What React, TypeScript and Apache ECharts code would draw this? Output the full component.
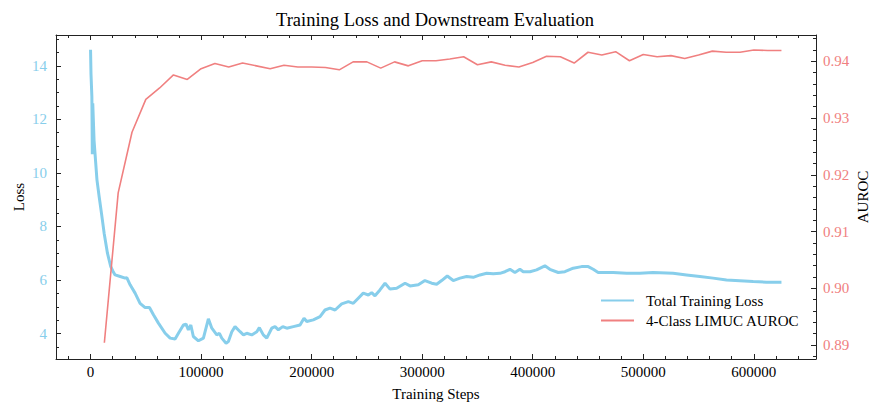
import React, { useEffect, useRef } from 'react';
import * as echarts from 'echarts';

// ---- Data ----
const lossSteps = [
  0, 400, 1200, 1600, 2000, 3200, 5800, 7800, 9900, 12300, 15300, 18300, 20000, 22200, 26800,
  31300, 32800, 35800, 40300, 44800, 49400, 53300, 56900, 61400, 67500, 72000, 76500, 79500,
  84000, 86400, 88500, 90700, 93000, 97600, 102100, 106600, 109700, 114200, 116600, 118700,
  122600, 124700, 127800, 130700, 135300, 138300, 141300, 145800, 150400, 152700, 156300,
  159400, 163900, 166900, 169900, 173900, 177500, 183500, 189500, 193100, 195600, 201500,
  207600, 212100, 216600, 221200, 227200, 233200, 237700, 242200, 246700, 251300, 254300,
  257300, 261800, 266400, 270900, 276900, 284500, 289000, 296500, 302500, 308600, 313100,
  317600, 322700, 328100, 334200, 340200, 346200, 352300, 358300, 364300, 370300, 374900,
  379400, 383900, 388400, 391400, 397500, 403500, 411000, 415500, 423100, 429100, 436600,
  444200, 450200, 454700, 459200, 472800, 484900, 496900, 508900, 527000, 539100, 551200,
  563200, 575300, 587300, 599400, 611500, 625000,
];
const lossValues = [
  14.6, 13.7, 12.85, 10.7, 12.6, 11.2, 9.74, 9.11, 8.49, 7.75, 7.0, 6.5, 6.35, 6.19, 6.13,
  6.07, 6.09, 5.82, 5.51, 5.13, 4.97, 4.97, 4.7, 4.39, 4.01, 3.83, 3.8, 4.01,
  4.32, 4.35, 4.14, 4.32, 3.89, 3.73, 3.83, 4.55, 4.2, 3.95, 4.01, 3.83,
  3.64, 3.7, 4.07, 4.26, 4.07, 3.95, 4.01, 3.95, 4.07, 4.22, 3.95,
  3.83, 4.2, 4.26, 4.14, 4.26, 4.2, 4.26, 4.32, 4.57, 4.45, 4.51,
  4.63, 4.88, 4.95, 4.88, 5.11, 5.19, 5.13, 5.32, 5.51, 5.44, 5.53,
  5.41, 5.63, 5.88, 5.66, 5.69, 5.88, 5.78, 5.82, 5.98, 5.88, 5.84,
  5.98, 6.15, 5.98, 6.07, 6.13, 6.1, 6.19, 6.25, 6.23, 6.25, 6.31,
  6.4, 6.28, 6.4, 6.31, 6.31, 6.38, 6.53, 6.4, 6.28, 6.31, 6.44,
  6.5, 6.5, 6.4, 6.28, 6.28, 6.25, 6.25, 6.28, 6.25, 6.19, 6.13,
  6.07, 6.0, 5.97, 5.94, 5.92, 5.92,
];

const aurocSteps = [
  12500, 25000, 37500, 50000, 62500, 75000, 87500, 100000, 112500, 125000,
  137500, 150000, 162500, 175000, 187500, 200000, 212500, 225000, 237500, 250000,
  262500, 275000, 287500, 300000, 312500, 325000, 337500, 350000, 362500, 375000,
  387500, 400000, 412500, 425000, 437500, 450000, 462500, 475000, 487500, 500000,
  512500, 525000, 537500, 550000, 562500, 575000, 587500, 600000, 612500, 625000,
];
const aurocValues = [
  0.8904, 0.9168, 0.9275, 0.9333, 0.9353, 0.9376, 0.9368, 0.9387, 0.9396, 0.939,
  0.9397, 0.9392, 0.9387, 0.9393, 0.939, 0.939, 0.9389, 0.9385, 0.9399, 0.9399,
  0.9388, 0.9399, 0.9392, 0.9401, 0.9401, 0.9404, 0.9408, 0.9394, 0.9399, 0.9393,
  0.939, 0.9398, 0.9409, 0.9408, 0.9397, 0.9416, 0.9411, 0.9417, 0.9401, 0.9412,
  0.9408, 0.941, 0.9405, 0.9411, 0.9418, 0.9416, 0.9416, 0.942, 0.9419, 0.9419,
];

const xTickValues = [0, 100000, 200000, 300000, 400000, 500000, 600000];
const lossTickValues = [4, 6, 8, 10, 12, 14];
const aurocTickValues = [0.89, 0.9, 0.91, 0.92, 0.93, 0.94];

const seriesNames = ['Total Training Loss', '4-Class LIMUC AUROC'];
const titleText = 'Training Loss and Downstream Evaluation';

// ---- Style ----
const FONT = "'Liberation Serif', 'DejaVu Serif', serif";
const LOSS_COLOR = '#87CEEB';
const AUROC_COLOR = '#F08080';
const AXIS_COLOR = '#222';

const X_MIN = -31250, X_MAX = 656250;
const L_MIN = 3.05, L_MAX = 15.15;
const A_MIN = 0.88753, A_MAX = 0.94464;

function range(start: number, stop: number, step: number, digits: number) {
  const out: number[] = [];
  for (let v = start; v <= stop + step / 1000; v += step) out.push(Number(v.toFixed(digits)));
  return out;
}
const xMinor = range(-20000, 640000, 20000, 0);
const lossMinor = range(3.5, 15.0, 0.5, 2);
const aurocMinor = range(0.888, 0.944, 0.002, 4);

const MAJOR = 5;
const MINOR = 3;

export default function App() {
  const ref = useRef<HTMLDivElement>(null);
  useEffect(() => {
    if (!ref.current) return;
    const chart = echarts.init(ref.current, null, { renderer: 'svg' });
    const lineStyle = { color: AXIS_COLOR, width: 1 };
    const hiddenLine = { show: false, onZero: false };
    const shownLine = { show: true, onZero: false, lineStyle };
    const nameStyle = { fontFamily: FONT, fontSize: 15, color: '#000' };
    const option: any = {
      animation: false,
      backgroundColor: '#fff',
      textStyle: { fontFamily: FONT },
      title: {
        text: titleText,
        left: 'center',
        top: 5,
        textStyle: { fontFamily: FONT, fontSize: 18.5, fontWeight: 'normal', color: '#000' },
      },
      legend: {
        data: seriesNames,
        orient: 'vertical',
        left: 596,
        top: 288,
        icon: 'rect',
        itemWidth: 33,
        itemHeight: 2,
        itemGap: 5,
        textStyle: { fontFamily: FONT, fontSize: 15, color: '#000', padding: [0, 0, 0, 7] },
      },
      grid: {
        left: 56, right: 54, top: 35, bottom: 44,
        containLabel: false,
        outerBoundsMode: 'none',
      },
      xAxis: [
        {
          type: 'value', gridIndex: 0, position: 'bottom', min: X_MIN, max: X_MAX,
          splitLine: { show: false },
          axisLine: shownLine,
          axisTick: { show: true, inside: true, length: MAJOR, lineStyle, customValues: xTickValues },
          axisLabel: {
            show: true, customValues: xTickValues, margin: 5, color: '#000', fontFamily: FONT, fontSize: 15,
            formatter: (v: number) => String(Math.round(v)),
          },
          name: 'Training Steps', nameLocation: 'middle', nameGap: 27, nameMoveOverlap: false,
          nameTextStyle: nameStyle,
        },
        {
          type: 'value', gridIndex: 0, position: 'bottom', min: X_MIN, max: X_MAX,
          splitLine: { show: false }, axisLine: hiddenLine,
          axisTick: { show: true, inside: true, length: MINOR, lineStyle, customValues: xMinor },
          axisLabel: { show: false },
        },
        {
          type: 'value', gridIndex: 0, position: 'top', min: X_MIN, max: X_MAX,
          splitLine: { show: false },
          axisLine: shownLine,
          axisTick: { show: true, inside: true, length: MAJOR, lineStyle, customValues: xTickValues },
          axisLabel: { show: false },
        },
        {
          type: 'value', gridIndex: 0, position: 'top', min: X_MIN, max: X_MAX,
          splitLine: { show: false }, axisLine: hiddenLine,
          axisTick: { show: true, inside: true, length: MINOR, lineStyle, customValues: xMinor },
          axisLabel: { show: false },
        },
      ],
      yAxis: [
        {
          type: 'value', gridIndex: 0, position: 'left', min: L_MIN, max: L_MAX,
          splitLine: { show: false },
          axisLine: shownLine,
          axisTick: { show: true, inside: true, length: MAJOR, lineStyle, customValues: lossTickValues },
          axisLabel: {
            show: true, customValues: lossTickValues, margin: 9, color: LOSS_COLOR, fontFamily: FONT, fontSize: 15,
            formatter: (v: number) => String(v),
          },
          name: 'Loss', nameLocation: 'middle', nameGap: 30, nameMoveOverlap: false,
          nameTextStyle: nameStyle,
        },
        {
          type: 'value', gridIndex: 0, position: 'left', min: L_MIN, max: L_MAX,
          splitLine: { show: false }, axisLine: hiddenLine,
          axisTick: { show: true, inside: true, length: MINOR, lineStyle, customValues: lossMinor },
          axisLabel: { show: false },
        },
        {
          type: 'value', gridIndex: 0, position: 'right', min: A_MIN, max: A_MAX,
          splitLine: { show: false },
          axisLine: shownLine,
          axisTick: { show: true, inside: true, length: MAJOR, lineStyle, customValues: aurocTickValues },
          axisLabel: {
            show: true, customValues: aurocTickValues, margin: 7, color: AUROC_COLOR, fontFamily: FONT, fontSize: 15,
            formatter: (v: number) => v.toFixed(2),
          },
          name: 'AUROC', nameLocation: 'middle', nameGap: 39, nameMoveOverlap: false,
          nameTextStyle: nameStyle,
        },
        {
          type: 'value', gridIndex: 0, position: 'right', min: A_MIN, max: A_MAX,
          splitLine: { show: false }, axisLine: hiddenLine,
          axisTick: { show: true, inside: true, length: MINOR, lineStyle, customValues: aurocMinor },
          axisLabel: { show: false },
        },
      ],
      series: [
        {
          name: seriesNames[0],
          type: 'line',
          xAxisIndex: 0,
          yAxisIndex: 0,
          data: lossSteps.map((s, i) => [s, lossValues[i]]),
          showSymbol: false,
          symbol: 'none',
          lineStyle: { color: LOSS_COLOR, width: 3 },
          itemStyle: { color: LOSS_COLOR },
          z: 2,
        },
        {
          name: seriesNames[1],
          type: 'line',
          xAxisIndex: 0,
          yAxisIndex: 2,
          data: aurocSteps.map((s, i) => [s, aurocValues[i]]),
          showSymbol: false,
          symbol: 'none',
          lineStyle: { color: AUROC_COLOR, width: 1.6 },
          itemStyle: { color: AUROC_COLOR },
          z: 3,
        },
      ],
    };
    chart.setOption(option);
    return () => chart.dispose();
  }, []);
  return (
    <div
      ref={ref}
      style={{ position: 'fixed', left: 0, top: 0, width: 870, height: 403, background: '#fff' }}
    />
  );
}
